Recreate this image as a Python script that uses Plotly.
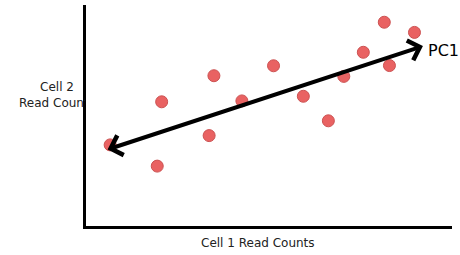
import plotly.graph_objects as go

W, H = 460, 255

# Data (arbitrary read-count units)
cell1 = [7.1, 19.9, 21.1, 34.0, 35.3, 42.9, 51.5, 59.6, 66.4, 70.6, 75.9, 81.6, 83.0, 89.8]
cell2 = [36.7, 27.1, 56.2, 40.9, 68.0, 56.6, 72.5, 58.7, 47.6, 67.7, 78.6, 92.2, 72.6, 87.6]
pc1_start = (6.0, 34.4)
pc1_end = (92.1, 81.4)

x_label = "Cell 1 Read Counts"
y_label = "Cell 2<br>Read Counts"
pc_label = "PC1"

FONT = "DejaVu Sans"

fig = go.Figure()

fig.add_trace(go.Scatter(
    x=cell1, y=cell2, mode="markers",
    marker=dict(size=12, color="#e96262",
                line=dict(color="#cc5252", width=1)),
    cliponaxis=False, showlegend=False, hoverinfo="skip",
))

# clipped y label on a helper subplot left of the y axis
fig.add_trace(go.Scatter(
    x=[57], y=[96], mode="text", text=[y_label],
    textfont=dict(family=FONT, size=12, color="#222222"),
    xaxis="x2", yaxis="y2", cliponaxis=True,
    showlegend=False, hoverinfo="skip",
))

fig.add_annotation(
    x=pc1_end[0], y=pc1_end[1], ax=pc1_start[0], ay=pc1_start[1],
    xref="x", yref="y", axref="x", ayref="y",
    text="", showarrow=True, arrowhead=4, startarrowhead=4,
    arrowside="end+start", arrowsize=1, startarrowsize=1,
    arrowwidth=4, arrowcolor="black",
)
fig.add_annotation(
    x=93.0, y=79.6, xref="x", yref="y", text=pc_label, showarrow=False,
    xanchor="left", yanchor="middle",
    font=dict(family=FONT, size=16, color="black"),
)
fig.add_annotation(
    x=258 / W, y=(H - 243) / H, xref="paper", yref="paper", text=x_label,
    showarrow=False, xanchor="center", yanchor="middle",
    font=dict(family=FONT, size=12, color="#222222"),
)

fig.update_layout(
    width=W, height=H,
    margin=dict(l=0, r=0, t=0, b=0),
    paper_bgcolor="white", plot_bgcolor="white",
    xaxis=dict(domain=[86 / W, 452 / W], range=[0.54, 100],
               showline=True, linecolor="black", linewidth=3,
               showgrid=False, zeroline=False, showticklabels=False,
               ticks="", fixedrange=True),
    yaxis=dict(domain=[(H - 226) / H, (H - 5) / H], range=[0, 100],
               showline=True, linecolor="black", linewidth=3,
               showgrid=False, zeroline=False, showticklabels=False,
               ticks="", fixedrange=True),
    xaxis2=dict(domain=[0, 85 / W], range=[0, 85], visible=False,
                anchor="y2", fixedrange=True),
    yaxis2=dict(domain=[0, 1], range=[H, 0], visible=False,
                anchor="x2", fixedrange=True),
)

fig.write_html("out.html", config={"displayModeBar": False},
               post_script="document.body.style.margin='0';")
